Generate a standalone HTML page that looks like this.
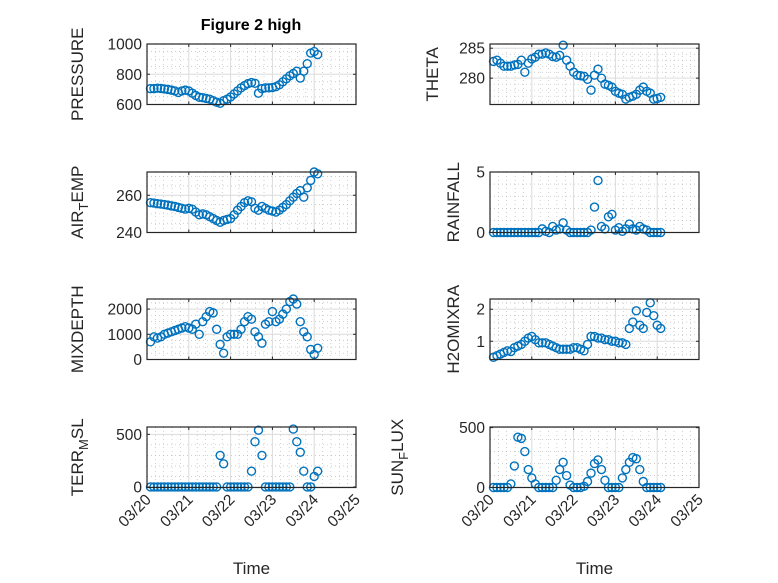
<!DOCTYPE html>
<html><head><meta charset="utf-8"><style>
body{margin:0;background:#fff;}
svg{display:block;font-family:"Liberation Sans","DejaVu Sans",sans-serif;}
</style></head><body>
<svg id="fig" width="778" height="583" viewBox="0 0 778 583">
<rect x="0" y="0" width="778" height="583" fill="#fff"/>
<text x="251" y="30" text-anchor="middle" font-size="16" font-weight="bold" fill="#000">Figure 2 high</text>
</svg>
<script>
const times=[2,4,6,8,10,12,14,16,18,20,22,24,26,28,30,32,34,36,38,40,42,44,46,48,50,52,54,56,58,60,62,64,66,68,70,72,74,76,78,80,82,84,86,88,90,92,94,96,98];
const xTickLabels=["03/20","03/21","03/22","03/23","03/24","03/25"];
const pressure=[705,705,708,706,703,700,695,690,680,690,695,690,675,660,648,645,640,635,625,615,608,625,635,650,670,690,710,725,738,745,740,675,705,710,710,712,718,730,750,770,790,805,820,775,820,870,940,950,930];
const airTemp=[256,255.8,255.5,255.3,255,254.7,254.3,254,253.5,253,252.6,253,252.5,251,249.5,250,249.5,248.5,247.5,246.5,245.5,246.5,247,247.5,249.5,252,254,256,257,256.5,253,252,254,253,252,251.5,251,252,253.5,255,257,259,261,262.5,259,264,268,272.5,271.5];
const mixDepth=[700,900,850,900,1000,1050,1100,1150,1200,1250,1300,1250,1200,1400,1000,1500,1700,1900,1850,1200,600,250,900,1000,1000,1000,1200,1500,1700,1600,1100,900,650,1400,1500,1900,1500,1600,1800,2000,2300,2400,2200,1500,1100,900,400,200,450];
const terrMsl=[0,0,0,0,0,0,0,0,0,0,0,0,0,0,0,0,0,0,0,0,300,220,0,0,0,0,0,0,0,150,430,540,300,0,0,0,0,0,0,0,0,550,430,330,150,0,0,100,150];
const theta=[282.8,283,282.5,282,282,282,282.2,282.3,283,281,282.5,283.2,283.5,284,284,284.2,284,283.6,283.5,283.8,285.5,283,282,281,280.5,280.4,280.3,279.8,278,280.5,281.5,280,279,278.8,278.5,277.8,277.5,277.3,276.5,276.8,277,277.3,278,278.5,277.8,277.5,276.5,276.6,276.8];
const rainfall=[0,0,0,0,0,0,0,0,0,0,0,0,0,0,0.3,0.1,0,0.5,0.2,0.3,0.8,0.2,0,0,0,0,0,0,0.2,2.1,4.3,0.5,0.3,1.3,1.5,0.2,0.4,0.1,0.3,0.7,0.3,0.2,0.5,0.3,0.2,0,0,0,0];
const h2oMix=[0.5,0.55,0.6,0.65,0.7,0.68,0.8,0.85,0.9,1.0,1.1,1.15,1.05,0.95,0.95,0.95,0.9,0.85,0.8,0.75,0.75,0.75,0.75,0.8,0.8,0.75,0.7,0.9,1.15,1.15,1.1,1.1,1.05,1.05,1.0,1.0,0.95,0.95,0.9,1.4,1.6,1.95,1.5,1.4,1.9,2.2,1.8,1.5,1.4];
const sunFlux=[0,0,0,0,0,30,180,420,410,300,150,80,30,0,0,0,0,0,60,150,210,100,20,0,0,0,10,50,120,200,230,150,60,0,0,0,0,80,150,210,250,240,150,50,0,0,0,0,0];

const NS="http://www.w3.org/2000/svg";
const svg=document.getElementById('fig');
function mk(tag,attrs,parent){const e=document.createElementNS(NS,tag);for(const k in attrs)e.setAttribute(k,attrs[k]);(parent||svg).appendChild(e);return e;}

const panels=[
 {name:'pressure',data:pressure,x:147,y:44,ymin:600,ymax:1000,ticks:[600,800,1000],minor:50,label:['PRESSURE'],lx:77},
 {name:'air-temp',data:airTemp,x:147,y:172,ymin:240,ymax:272.5,ticks:[240,260],minor:5,label:['AIR','T','EMP'],lx:77},
 {name:'mixdepth',data:mixDepth,x:147,y:299,ymin:0,ymax:2400,ticks:[0,1000,2000],minor:250,label:['MIXDEPTH'],lx:77},
 {name:'terr-msl',data:terrMsl,x:147,y:427,ymin:-5,ymax:570,ticks:[0,500],minor:100,label:['TERR','M','SL'],lx:77,bottom:true},
 {name:'theta',data:theta,x:490,y:44,ymin:275.6,ymax:285.7,ticks:[280,285],minor:1,label:['THETA'],lx:432},
 {name:'rainfall',data:rainfall,x:490,y:172,ymin:0,ymax:5,ticks:[0,5],minor:1,label:['RAINFALL'],lx:453},
 {name:'h2omixra',data:h2oMix,x:490,y:299,ymin:0.43,ymax:2.32,ticks:[1,2],minor:0.2,label:['H2OMIXRA'],lx:453},
 {name:'sun-flux',data:sunFlux,x:490,y:427,ymin:0,ymax:505,ticks:[0,500],minor:100,label:['SUN','F','LUX'],lx:397,bottom:true}
];
const W=209,H=60.5,DAYS=5;
panels.forEach(p=>{
 const g=mk('g',{});
 
 
 const xs=t=>p.x+t/24/DAYS*W;
 const ys=v=>p.y+H-(v-p.ymin)/(p.ymax-p.ymin)*H;
 mk('rect',{x:p.x,y:p.y,width:W,height:H,fill:'#fff'},g);
 for(let d=0;d<=DAYS*24;d+=4.8){const xx=xs(d);mk('line',{x1:xx,x2:xx,y1:p.y,y2:p.y+H,stroke:'#b0b0b0','stroke-width':0.6,'stroke-dasharray':'1 3'},g);}
 for(let v=Math.ceil(p.ymin/p.minor)*p.minor;v<=p.ymax;v+=p.minor){const yy=ys(v);mk('line',{x1:p.x,x2:p.x+W,y1:yy,y2:yy,stroke:'#b0b0b0','stroke-width':0.6,'stroke-dasharray':'1 3'},g);}
 xTickLabels.forEach((lab,i)=>{const xx=xs(i*24);
  mk('line',{x1:xx,x2:xx,y1:p.y,y2:p.y+H,stroke:'#dcdcdc','stroke-width':1},g);
  mk('line',{x1:xx,x2:xx,y1:p.y+H,y2:p.y+H-3,stroke:'#262626','stroke-width':1},g);
  mk('line',{x1:xx,x2:xx,y1:p.y,y2:p.y+3,stroke:'#262626','stroke-width':1},g);
  if(p.bottom){const t=mk('text',{x:0,y:0,'font-size':15.5,fill:'#262626','text-anchor':'end',transform:`translate(${xx+5},${p.y+H+13}) rotate(-45)`},g);t.textContent=lab;
   
   }
 });
 p.ticks.forEach(v=>{const yy=ys(v);
  mk('line',{x1:p.x,x2:p.x+W,y1:yy,y2:yy,stroke:'#dcdcdc','stroke-width':1},g);
  mk('line',{x1:p.x,x2:p.x+3,y1:yy,y2:yy,stroke:'#262626','stroke-width':1},g);
  mk('line',{x1:p.x+W,x2:p.x+W-3,y1:yy,y2:yy,stroke:'#262626','stroke-width':1},g);
  const t=mk('text',{x:p.x-5,y:yy+5.5,'font-size':15.5,fill:'#262626','text-anchor':'end'},g);t.textContent=String(v);
  
  
 });
 const n=Math.min(times.length,p.data.length);
 for(let i=0;i<n;i++){
  const c=mk('circle',{cx:xs(times[i]),cy:ys(p.data[i]),r:4,fill:'none',stroke:'#0072BD','stroke-width':1.4},g);
  
  
 }
 mk('rect',{x:p.x,y:p.y,width:W,height:H,fill:'none',stroke:'#262626','stroke-width':1.2},g);
 const cy=p.y+H/2;
 const t=mk('text',{x:0,y:0,'font-size':17,fill:'#262626','text-anchor':'middle',transform:`translate(${p.lx+6},${cy}) rotate(-90)`},g);
 
 
 if(p.label.length===1){t.textContent=p.label[0];}
 else{
  const a=mk('tspan',{},t);a.textContent=p.label[0];
  const b=mk('tspan',{dy:5,'font-size':13},t);b.textContent=p.label[1];
  const c=mk('tspan',{dy:-5},t);c.textContent=p.label[2];
 }
 if(p.bottom){const xt=mk('text',{x:p.x+W/2,y:574,'font-size':17,fill:'#262626','text-anchor':'middle'},g);xt.textContent='Time';
  
  }
});
</script>
</body></html>
